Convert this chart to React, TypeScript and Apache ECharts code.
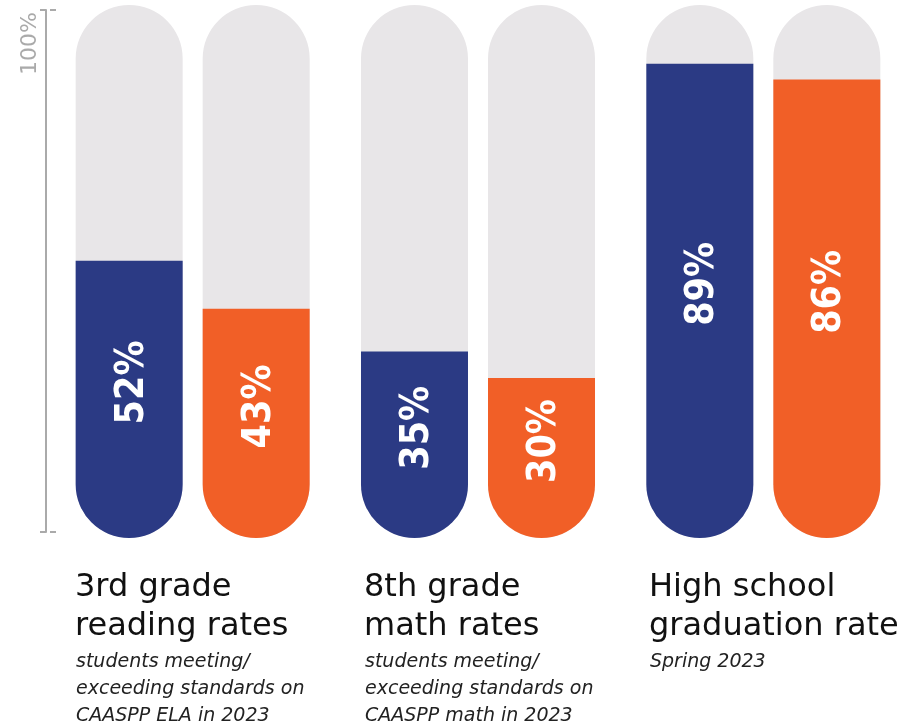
import React, { useEffect, useRef } from "react";
import * as echarts from "echarts";

const categories = ["3rd grade reading", "8th grade math", "High school graduation"];
const blueValues = [52, 35, 89];
const orangeValues = [43, 30, 86];
const titleLines = [
  ["3rd grade", "reading rates"],
  ["8th grade", "math rates"],
  ["High school", "graduation rate"],
];
const subtitleLines = [
  ["students meeting/", "exceeding standards on", "CAASPP ELA in 2023"],
  ["students meeting/", "exceeding standards on", "CAASPP math in 2023"],
  ["Spring 2023"],
];
const axisLabelText = "100%";

const BLUE = "#2b3a84";
const ORANGE = "#f15f27";
const GREY = "#e8e6e8";

export default function App() {
  const ref = useRef<HTMLDivElement>(null);
  useEffect(() => {
    if (!ref.current) return;
    const chart = echarts.init(ref.current, undefined, { renderer: "svg" });
    const groupLeft = [76, 365, 650];
    const graphics: any[] = [];
    titleLines.forEach((lines, i) => {
      lines.forEach((t, j) => {
        graphics.push({
          type: "text",
          x: groupLeft[i] - 1,
          y: 569 + j * 39,
          style: {
            text: t,
            fill: "#111",
            font: "32px 'DejaVu Sans', sans-serif",
            textVerticalAlign: "top",
          },
        });
      });
      subtitleLines[i].forEach((t, j) => {
        graphics.push({
          type: "text",
          x: groupLeft[i],
          y: 650 + j * 27,
          style: {
            text: t,
            fill: "#222",
            font: "italic 19px 'DejaVu Sans', sans-serif",
            textVerticalAlign: "top",
          },
        });
      });
    });
    graphics.push({
      type: "text",
      x: 28,
      y: 12,
      rotation: Math.PI / 2,
      style: {
        text: axisLabelText,
        fill: "#aaa",
        font: "22px 'DejaVu Sans', sans-serif",
        textAlign: "right",
        textVerticalAlign: "middle",
      },
    });

    const labelCfg = {
      show: true,
      position: "inside",
      rotate: 90,
      offset: [17, 0],
      formatter: "{c}%",
      color: "#fff",
      fontSize: 39,
      fontWeight: "bold",
      fontFamily: "'DejaVu Sans Condensed', sans-serif",
    };

    chart.setOption({
      animation: false,
      grid: [
        { left: 50, right: -5, top: 5, bottom: 190 },
        { left: 46, width: 10, top: 10, bottom: 196 },
      ],
      xAxis: [
        { type: "category", data: categories, gridIndex: 0, show: false },
        { type: "category", data: [""], gridIndex: 1, show: false },
      ],
      yAxis: [
        { type: "value", min: 0, max: 100, gridIndex: 0, show: false },
        {
          type: "value",
          min: 0,
          max: 100,
          interval: 100,
          gridIndex: 1,
          axisLine: { show: true, lineStyle: { color: "#aaa", width: 2 } },
          axisTick: { show: true, length: 6, lineStyle: { color: "#aaa", width: 2 } },
          axisLabel: { show: false },
          splitLine: { show: false },
        },
        {
          type: "value",
          min: 0,
          max: 100,
          interval: 100,
          gridIndex: 1,
          axisLine: { show: false },
          axisTick: { show: true, inside: true, length: 6, lineStyle: { color: "#aaa", width: 2 } },
          axisLabel: { show: false },
          splitLine: { show: false },
        },
      ],
      graphic: graphics,
      series: [
        {
          type: "bar",
          data: blueValues,
          barWidth: 107,
          barGap: "18.7%",
          itemStyle: { color: BLUE, borderRadius: [0, 0, 53.5, 53.5] },
          showBackground: true,
          backgroundStyle: { color: GREY, borderRadius: 53.5 },
          label: labelCfg,
        },
        {
          type: "bar",
          data: orangeValues,
          barWidth: 107,
          itemStyle: { color: ORANGE, borderRadius: [0, 0, 53.5, 53.5] },
          showBackground: true,
          backgroundStyle: { color: GREY, borderRadius: 53.5 },
          label: labelCfg,
        },
      ],
    });
    return () => chart.dispose();
  }, []);
  return (
    <div
      ref={ref}
      style={{ position: "fixed", left: 0, top: 0, width: 906, height: 728 }}
    />
  );
}
